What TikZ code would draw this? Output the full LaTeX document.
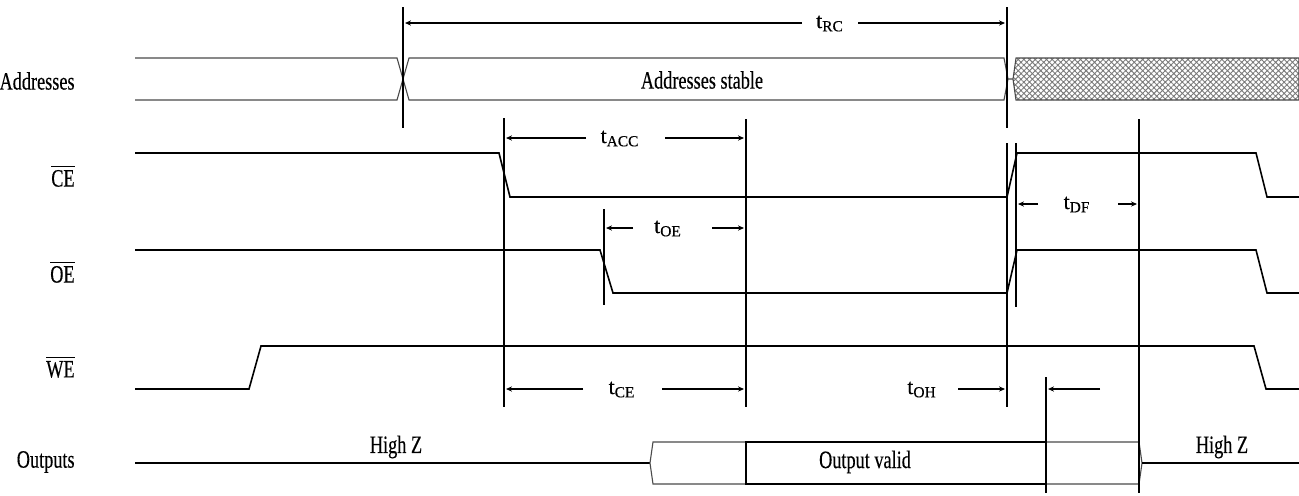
\documentclass[tikz,border=0pt]{standalone}
\usepackage{fontspec}
\setmainfont{Liberation Serif}[FakeStretch=0.73, FakeBold=0.3]
\newfontfamily\tfont{Liberation Serif}[FakeBold=0.3]
\usepackage{amsmath}
\usepackage{tikz}
\usetikzlibrary{arrows.meta, patterns.meta}
\definecolor{busgray}{HTML}{4A4A4A}
\definecolor{hatchgray}{HTML}{7A7A7A}

\begin{document}
\begin{tikzpicture}[
    x=0.5pt, y=-0.5pt,
    signal/.style={line width=0.8pt, black},
    bus/.style={line width=0.55pt, busgray},
    timeline/.style={line width=0.8pt, black},
    dimarrow/.style={-{Stealth[length=3pt, width=2.6pt]}, line width=0.75pt},
    siglabel/.style={anchor=east, inner sep=0pt, font=\fontsize{12.5}{14}\selectfont},
    bustext/.style={inner sep=0pt, font=\fontsize{12.5}{14}\selectfont},
    tlabel/.style={anchor=base, inner sep=0pt, font=\tfont\fontsize{11}{13}\selectfont},
]
\useasboundingbox (0,0) rectangle (1299,495);

% signal names
\node[siglabel] (addr) at (75,81) {Addresses};
\node[siglabel] (ce) at (75,176) {$\overline{\text{CE}}$};
\node[siglabel] (oe) at (75,272) {$\overline{\text{OE}}$};
\node[siglabel] (we) at (75,367) {$\overline{\text{WE}}$};
\node[siglabel] (out) at (75,462) {Outputs};

% address bus
\draw[bus] (135,58) -- (397,58) -- (409,100) -- (1004,100) -- (1008,79) -- (1013,79);
\draw[bus] (135,100) -- (397,100) -- (409,58) -- (1004,58) -- (1008,79);
\draw[bus, pattern={Hatch[angle=45, distance=2pt, line width=0.45pt]}, pattern color=hatchgray]
    (1013,79) -- (1016,58) -- (1299,58) -- (1299,100) -- (1016,100) -- cycle;
\node[bustext] (stable) at (702,80) {Addresses stable};

% control lines
\draw[signal] (135,153) -- (499,153) -- (510,197) -- (1007,197) -- (1017,153) -- (1256,153) -- (1267,197) -- (1299,197);
\draw[signal] (135,250) -- (600,250) -- (613,293) -- (1007,293) -- (1017,250) -- (1256,250) -- (1267,293) -- (1299,293);
\draw[signal] (135,389) -- (249,389) -- (261,346) -- (1254,346) -- (1266,389) -- (1299,389);

% outputs
\draw[signal] (135,463) -- (650,463);
\draw[bus] (746,442) -- (653,442) -- (650,463) -- (653,484) -- (746,484);
\draw[bus] (1046,442) -- (1139,442) -- (1142,463) -- (1139,484) -- (1046,484);
\draw[signal] (1142,463) -- (1299,463);
\draw[line width=1pt] (746,442) rectangle (1046,484);
\node[bustext] (valid) at (865,462) {Output valid};
\node[bustext] (hizl) at (396,447) {High Z};
\node[bustext] (hizr) at (1222,447) {High Z};

% timing marks
\coordinate (tA) at (403,0);
\coordinate (tB) at (504,0);
\coordinate (tO) at (604,0);
\coordinate (tV) at (746,0);
\coordinate (tR) at (1007,0);
\coordinate (tS) at (1016,0);
\coordinate (tH) at (1046,0);
\coordinate (tZ) at (1139,0);

\draw[timeline] (tA |- 0,7) -- (tA |- 0,128);
\draw[timeline] (tR |- 0,7) -- (tR |- 0,128);
\draw[timeline] (tB |- 0,118) -- (tB |- 0,407);
\draw[timeline] (tV |- 0,119) -- (tV |- 0,407);
\draw[timeline] (tO |- 0,209) -- (tO |- 0,305);
\draw[timeline] (tR |- 0,143) -- (tR |- 0,407);
\draw[timeline] (tS |- 0,143) -- (tS |- 0,307);
\draw[timeline] (tZ |- 0,119) -- (tZ |- 0,493);
\draw[line width=1.1pt] (tH |- 0,377) -- (tH |- 0,493);

% timing parameters
\draw[dimarrow] (802,23) -- (405,23);
\node[tlabel] (trc) at (830,28) {t\textsubscript{RC}};
\draw[dimarrow] (858,23) -- (1005,23);

\draw[dimarrow] (586,138) -- (506,138);
\node[tlabel] (tacc) at (620,143) {t\textsubscript{ACC}};
\draw[dimarrow] (665,138) -- (744,138);

\draw[dimarrow] (633,228) -- (606,228);
\node[tlabel] (toe) at (668,233) {t\textsubscript{OE}};
\draw[dimarrow] (712,228) -- (744,228);

\draw[dimarrow] (1038,204) -- (1018,204);
\node[tlabel] (tdf) at (1077,209) {t\textsubscript{DF}};
\draw[dimarrow] (1118,204) -- (1137,204);

\draw[dimarrow] (583,389) -- (506,389);
\node[tlabel] (tce) at (622,394) {t\textsubscript{CE}};
\draw[dimarrow] (662,389) -- (744,389);

\node[tlabel] (toh) at (922,394) {t\textsubscript{OH}};
\draw[dimarrow] (958,389) -- (1005,389);
\draw[dimarrow] (1100,389) -- (1048,389);

\end{tikzpicture}
\end{document}
